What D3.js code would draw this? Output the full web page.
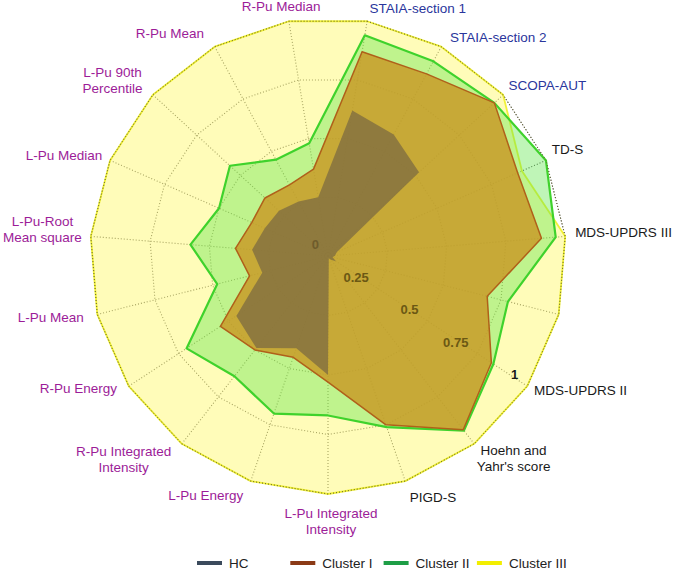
<!DOCTYPE html>
<html>
<head>
<meta charset="utf-8">
<script src="https://cdn.jsdelivr.net/npm/d3@7"></script>
<style>
  body { margin: 0; background: #fff; }
  svg { display: block; font-family: "Liberation Sans", Arial, sans-serif; }
  .axis-label { font-size: 13.5px; }
  .tick-label { font-size: 13px; font-weight: bold; }
  .legend text { font-size: 13.5px; fill: #222; }
</style>
</head>
<body>
<svg width="676" height="572"></svg>
<script>
// **** data ****

var axes = ["STAIA-section 1", "STAIA-section 2", "SCOPA-AUT", "TD-S", "MDS-UPDRS III", "",
    "MDS-UPDRS II", "Hoehn and\nYahr's score", "PIGD-S", "L-Pu Integrated\nIntensity", "L-Pu Energy",
    "R-Pu Integrated\nIntensity", "R-Pu Energy", "L-Pu Mean", "L-Pu-Root\nMean square", "L-Pu Median",
    "L-Pu 90th\nPercentile", "R-Pu Mean", "R-Pu Median"];

var hc         = [0.62, 0.58, 0.52, 0.04, 0.03, 0.02, 0.04, 0.02, 0.01, 0.50, 0.41, 0.49, 0.46, 0.285, 0.32, 0.29, 0.28, 0.26, 0.25];
var clusterI   = [0.87, 0.87, 0.95, 0.87, 0.90, 0.69, 0.82, 0.925, 0.75, 0.53, 0.45, 0.50, 0.54, 0.34, 0.39, 0.35, 0.36, 0.34, 0.37];
var clusterII  = [0.94, 0.93, 0.95, 1.00, 0.96, 0.78, 0.83, 0.93, 0.76, 0.67, 0.70, 0.64, 0.71, 0.48, 0.58, 0.50, 0.56, 0.46, 0.48];
var clusterIII = [1, 1, 1, 0.89, 1, 1, 1, 1, 1, 1, 1, 1, 1, 1, 1, 1, 1, 1, 1];

var ticks = [0, 0.25, 0.5, 0.75, 1];
var seriesNames = ["HC", "Cluster I", "Cluster II", "Cluster III"];

// **** layout ****

var cx = 328, cy = 256, R = 238;
var n = axes.length;
var step = 2 * Math.PI / n;

var rScale = d3.scaleLinear().domain([0, 1]).range([0, R]);
var aScale = d3.scaleLinear().domain([0, n]).range([step / 2, step / 2 + 2 * Math.PI]);

// small hand nudges for axis labels [dx, dy]
var nudge = {0: [0, 1], 1: [2, 3], 2: [-5, 0], 3: [-7, -5], 4: [-4, -3], 6: [-5, -3], 7: [-6, 4],
    8: [0, -2], 9: [3, 0], 10: [-3, -4], 11: [-2, 5], 12: [0, -5], 14: [5, -6], 15: [5, 1],
    16: [0, -5], 17: [-4, -1], 18: [34, -0.5]};

var svg = d3.select("svg");
var g = svg.append("g").attr("transform", "translate(" + cx + "," + cy + ")");

var radial = d3.lineRadial()
    .angle(function(d, i) { return aScale(i); })
    .radius(function(d) { return rScale(d); })
    .curve(d3.curveLinearClosed);

function ring(t) {
    return radial(axes.map(function() { return t; }));
}

// grid rings and spokes
ticks.filter(function(t) { return t > 0; }).forEach(function(t) {
    g.append("path")
        .attr("d", ring(t))
        .attr("fill", "none")
        .attr("stroke", "#4a4a4a")
        .attr("stroke-width", 1.1)
        .attr("stroke-dasharray", "1,2");
});

g.selectAll("line.spoke")
    .data(axes)
    .enter()
    .append("line")
    .attr("class", "spoke")
    .attr("x1", 0).attr("y1", 0)
    .attr("x2", function(d, i) { return rScale(1) * Math.sin(aScale(i)); })
    .attr("y2", function(d, i) { return -rScale(1) * Math.cos(aScale(i)); })
    .attr("stroke", "#4a4a4a")
    .attr("stroke-width", 1.1)
    .attr("stroke-dasharray", "1,2");

// series polygons, back to front
var layers = [
    {values: clusterIII, fill: "#fffa78", fo: 0.52, stroke: "#eeee10", sw: 1.8, so: 0.8},
    {values: clusterII, fill: "#5ee64a", fo: 0.4, stroke: "#3fd22c", sw: 2.2, so: 1},
    {values: clusterI, fill: "#c89b28", fo: 0.85, stroke: "#b0601a", sw: 1.5, so: 1},
    {values: hc, fill: "#776641", fo: 0.7, stroke: "none", sw: 0, so: 1}
];

layers.forEach(function(l) {
    g.append("path")
        .attr("d", radial(l.values))
        .attr("fill", l.fill)
        .attr("fill-opacity", l.fo)
        .attr("stroke", l.stroke)
        .attr("stroke-width", l.sw)
        .attr("stroke-opacity", l.so)
        .attr("stroke-linejoin", "round");
});

// outer ring dots sit on top of the yellow border
g.append("path")
    .attr("d", ring(1))
    .attr("fill", "none")
    .attr("stroke", "#6b6a30")
    .attr("stroke-width", 1)
    .attr("stroke-dasharray", "1,2");

// tick labels along the MDS-UPDRS II axis
var tickAxis = 6;
g.selectAll("text.tick-label")
    .data(ticks)
    .enter()
    .append("text")
    .attr("class", "tick-label")
    .attr("text-anchor", "end")
    .attr("x", function(d) { return rScale(d) * Math.sin(aScale(tickAxis)) - 9; })
    .attr("y", function(d) { return -rScale(d) * Math.cos(aScale(tickAxis)) - 7; })
    .attr("fill", function(d) {
        if (d === 0) return "#6e5c2c";
        if (d === 1) return "#1a1a1a";
        return "#6b5814";
    })
    .text(function(d) { return d; });

// axis labels
function labelColor(i) {
    if (i <= 2) return "#2a369c";
    if (i <= 8) return "#1a1a1a";
    return "#9c1c98";
}

var labelR = R + 14;
axes.forEach(function(label, i) {
    if (!label) return;
    var a = aScale(i);
    var s = Math.sin(a), c = Math.cos(a);
    var nd = nudge[i] || [0, 0];
    var x = labelR * s + nd[0];
    var y = -labelR * c + nd[1];
    var lines = label.split("\n");
    var lh = 16;
    var anchor = s > 0.05 ? "start" : (s < -0.05 ? "end" : "middle");

    var t = g.append("text")
        .attr("class", "axis-label")
        .attr("fill", labelColor(i));

    var y0;
    if (c < -0.9) y0 = y + 10;
    else y0 = y + 4.5 - (lines.length - 1) * lh / 2;

    var spans = lines.map(function(line, j) {
        return t.append("tspan").attr("y", y0 + j * lh).text(line);
    });

    if (lines.length > 1) {
        var w = d3.max(spans, function(sp) { return sp.node().getComputedTextLength(); });
        var mx = anchor === "start" ? x + w / 2 : (anchor === "end" ? x - w / 2 : x);
        t.attr("text-anchor", "middle");
        spans.forEach(function(sp) { sp.attr("x", mx); });
    } else {
        t.attr("text-anchor", anchor);
        spans.forEach(function(sp) { sp.attr("x", x); });
    }
});

// legend
var legendColors = ["#3b4a5c", "#8b3a16", "#1e9e46", "#f2ee00"];
var legend = svg.append("g").attr("class", "legend")
    .attr("transform", "translate(197,563)");

var item = legend.selectAll("g.item")
    .data(seriesNames)
    .enter()
    .append("g")
    .attr("class", "item")
    .attr("transform", function(d, i) { return "translate(" + (i * 93.3) + ",0)"; });

item.append("line")
    .attr("x1", 0).attr("x2", 25)
    .attr("y1", 0).attr("y2", 0)
    .attr("stroke", function(d, i) { return legendColors[i]; })
    .attr("stroke-width", 4);

item.append("text")
    .attr("x", 32)
    .attr("y", 5)
    .text(function(d) { return d; });
</script>
</body>
</html>
